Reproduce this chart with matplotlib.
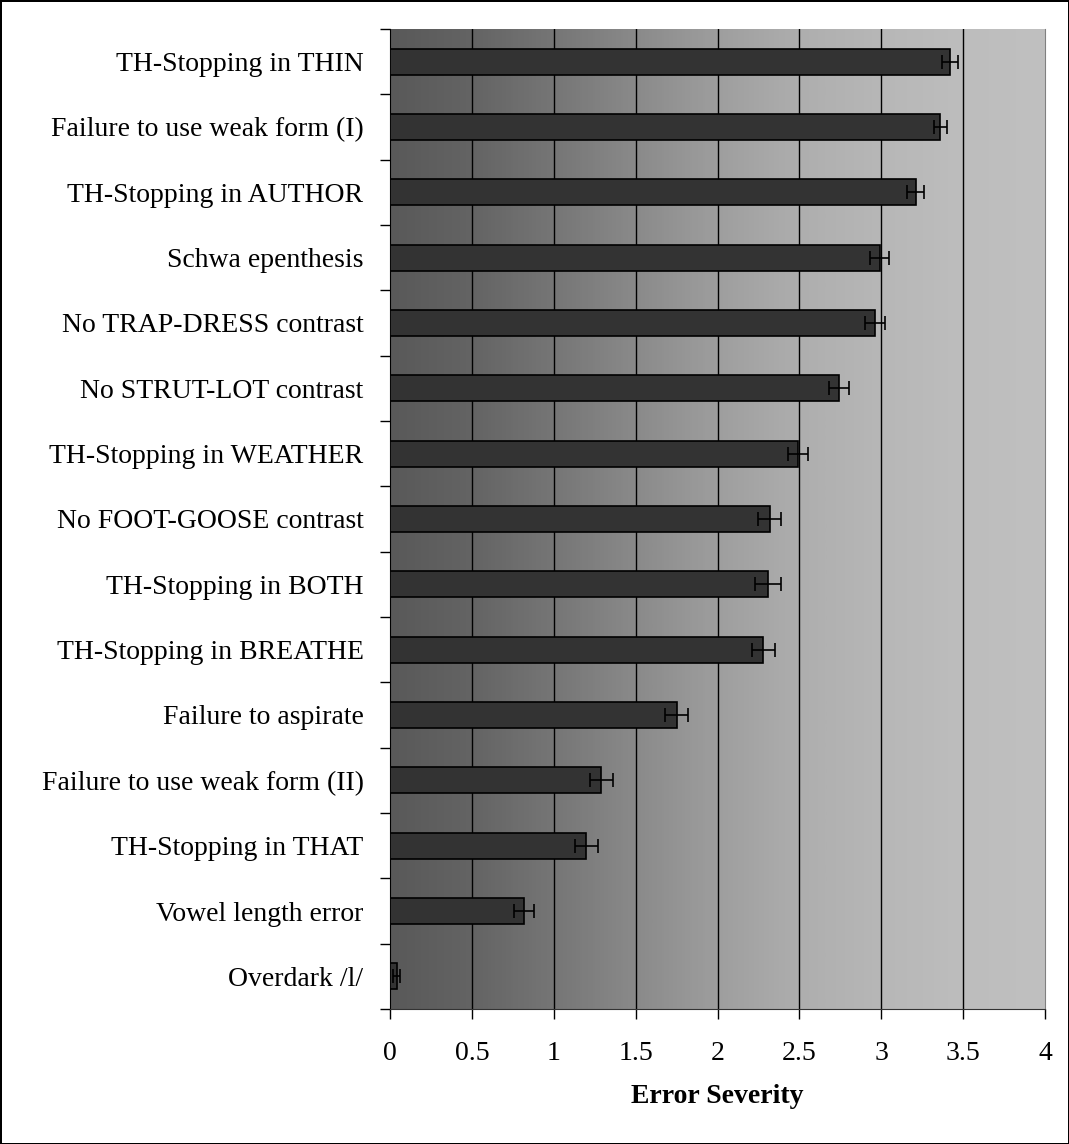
import numpy as np
import matplotlib
matplotlib.use("Agg")
import matplotlib.pyplot as plt
from matplotlib.colors import LinearSegmentedColormap

plt.rcParams['font.family'] = ['Liberation Serif', 'DejaVu Serif']

# data (top to bottom as in the picture)
labels = ["TH-Stopping in THIN", "Failure to use weak form (I)", "TH-Stopping in AUTHOR",
          "Schwa epenthesis", "No TRAP-DRESS contrast", "No STRUT-LOT contrast",
          "TH-Stopping in WEATHER", "No FOOT-GOOSE contrast", "TH-Stopping in BOTH",
          "TH-Stopping in BREATHE", "Failure to aspirate", "Failure to use weak form (II)",
          "TH-Stopping in THAT", "Vowel length error", "Overdark /l/"]
severity = [3.42, 3.36, 3.21, 2.99, 2.96, 2.74, 2.49, 2.32, 2.31, 2.28, 1.75, 1.29, 1.20, 0.82, 0.04]
err = [0.05, 0.04, 0.05, 0.06, 0.06, 0.06, 0.06, 0.07, 0.08, 0.07, 0.07, 0.07, 0.07, 0.06, 0.02]
xticks = [0, 0.5, 1, 1.5, 2, 2.5, 3, 3.5, 4]

fig = plt.figure(figsize=(10.69, 11.44), dpi=100)
fig.patch.set_edgecolor('black')
fig.patch.set_linewidth(2)
ax = fig.add_axes([0.3648, 0.118, 0.6128, 0.8567])

n = len(labels)
y = np.arange(n)[::-1]

# background gradient, dark on the left, light on the right
cmap = LinearSegmentedColormap.from_list('bg', [
    (0.0, '#595959'), (0.125, '#646464'), (0.25, '#767676'), (0.375, '#8a8a8a'),
    (0.5, '#9e9e9e'), (0.625, '#aeaeae'), (0.75, '#b7b7b7'), (0.875, '#bdbdbd'), (1.0, '#c0c0c0')])
grad = np.linspace(0, 1, 400).reshape(1, -1)
ax.imshow(grad, cmap=cmap, aspect='auto', extent=[0, 4, -0.5, n - 0.5], zorder=0)

for xv in xticks[1:-1]:
    ax.axvline(xv, color='black', lw=1, zorder=1)

ax.barh(y, severity, height=0.4, color='#333333', edgecolor='black', lw=1.2, zorder=3)
ax.errorbar(severity, y, xerr=err, fmt='none', ecolor='black', elinewidth=1.2,
            capsize=5, capthick=1.2, zorder=4)

ax.set_xlim(0, 4)
ax.set_ylim(-0.5, n - 0.5)
ax.set_xticks(xticks)
ax.set_xticklabels([f"{v:g}" for v in xticks], fontsize=20)
ax.tick_params(axis='x', direction='out', length=7, pad=16, width=1)
ax.set_yticks(np.arange(n + 1) - 0.5)
ax.set_yticklabels([])
ax.set_yticks(y, labels, minor=True)
ax.tick_params(axis='y', which='major', direction='out', length=7, width=1)
ax.tick_params(axis='y', which='minor', length=0, labelsize=20, pad=19)
ax.set_xlabel('Error Severity', fontsize=20, fontweight='bold', labelpad=13)

ax.spines['top'].set_visible(False)
ax.spines['right'].set_color('#808080')
ax.spines['left'].set_color('black')
ax.spines['bottom'].set_color('#333333')

fig.savefig('out.png', dpi=100)
